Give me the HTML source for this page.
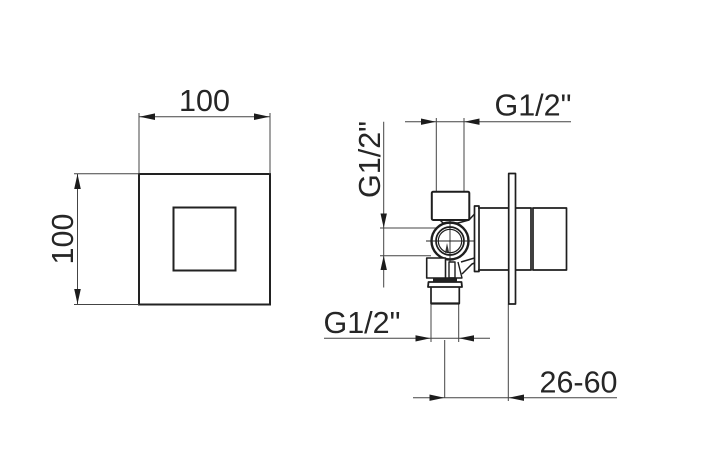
<!DOCTYPE html>
<html>
<head>
<meta charset="utf-8">
<style>
html,body{margin:0;padding:0;background:#fff}
svg{display:block}
text{font-family:"Liberation Sans",sans-serif;font-size:30.5px;fill:#262626}
</style>
</head>
<body>
<svg width="713" height="455" viewBox="0 0 713 455" xmlns="http://www.w3.org/2000/svg">
<rect width="713" height="455" fill="#fff"/>

<!-- Left view -->
<rect x="139" y="174" width="131" height="130.500" fill="none" stroke="#222" stroke-width="2"/>
<rect x="173.500" y="207.500" width="62" height="63" fill="none" stroke="#222" stroke-width="2"/>
<g stroke="#444" stroke-width="1" fill="none">
<path d="M139 113V174M270 113V174M139 116.700H270"/>
<path d="M74 173.700H139M74 304.500H139M77.500 174V304"/>
</g>
<g fill="#1c1c1c">
<path d="M139.500 116.700L155 113.400V120Z"/>
<path d="M269.500 116.700L254 113.400V120Z"/>
<path d="M77.500 174L74.200 189H80.800Z"/>
<path d="M77.500 304L74.200 289H80.800Z"/>
</g>
<text x="204.500" y="111" text-anchor="middle">100</text>
<text transform="translate(73 239) rotate(-90)" text-anchor="middle">100</text>

<!-- Right view dimensions -->
<g stroke="#444" stroke-width="1" fill="none">
<path d="M405 121.700H571"/>
<path d="M436.300 118V192M464 118V192"/>
<path d="M383.700 121.700V287.500"/>
<path d="M380 228H436M380 255.700H431"/>
<path d="M324 338.300H490"/>
<path d="M431 304V342M458.700 304V342"/>
<path d="M444.700 340V398M508.300 304V401"/>
<path d="M413 397.700H617"/>
</g>
<g fill="#1c1c1c">
<path d="M436 121.700L421 118.500V124.900Z"/>
<path d="M464.300 121.700L479.500 118.500V124.900Z"/>
<path d="M383.700 228L380.500 213.500H386.900Z"/>
<path d="M383.700 255.700L380.500 270H386.900Z"/>
<path d="M430.500 338.300L415.500 335.200V341.500Z"/>
<path d="M459 338.300L474 335.200V341.500Z"/>
<path d="M444.500 397.700L429.500 394.500V400.900Z"/>
<path d="M508.600 397.700L524 394.500V400.900Z"/>
</g>
<text x="494.500" y="115.700">G1/2"</text>
<text transform="translate(380 159.500) rotate(-90)" text-anchor="middle">G1/2"</text>
<text x="323.500" y="333">G1/2"</text>
<text x="539.500" y="392.700">26-60</text>

<!-- Valve -->
<g fill="none" stroke="#1e1e1e" stroke-width="1.700" stroke-linejoin="round">
<rect x="508.700" y="173.500" width="6.800" height="130.500"/>
<path d="M478 208H508.700M515.500 208H531V270H515.500M508.700 270H478"/>
<rect x="533" y="208" width="33.500" height="62"/>
<rect x="474.500" y="206" width="4.500" height="65.500"/>
<path d="M531 208H533M531 270H533" stroke-width="1"/>
<rect x="431.800" y="191.700" width="37.500" height="28.300" rx="1.500" stroke-width="2"/>
<path d="M440 220L443 223H458L469 220L474.500 214" stroke-width="1.500"/>
<circle cx="450" cy="241" r="18.500" stroke-width="2.400"/>
<circle cx="450" cy="241" r="14" stroke-width="1.700"/>
<circle cx="450" cy="241" r="11.700" stroke-width="1.200"/>
<rect x="426.700" y="258" width="18.800" height="20" stroke-width="1.600" fill="#fff"/>
<path d="M449 262H455V278H449Z" stroke-width="1.400"/>
<path d="M458 262L462 278H445" stroke-width="1.400"/>
<path d="M461 262L474.500 258M462 274L472 264L474.500 263" stroke-width="1.500"/>
<path d="M428.500 282H461.500L462 287H428Z" stroke-width="1.800"/>
<path d="M431 287V303.500H459.300V287" stroke-width="1.700"/>
<path d="M431 303.500H459.300" stroke-width="2.200"/>
</g>
<path d="M426 241H474.500M450 220V262" stroke="#222" stroke-width="0.900" fill="none"/>
<path d="M447 243L445 253L449 252Z" fill="#333"/>
<rect x="433" y="278.500" width="24" height="3" fill="#222"/>
</svg>
</body>
</html>
